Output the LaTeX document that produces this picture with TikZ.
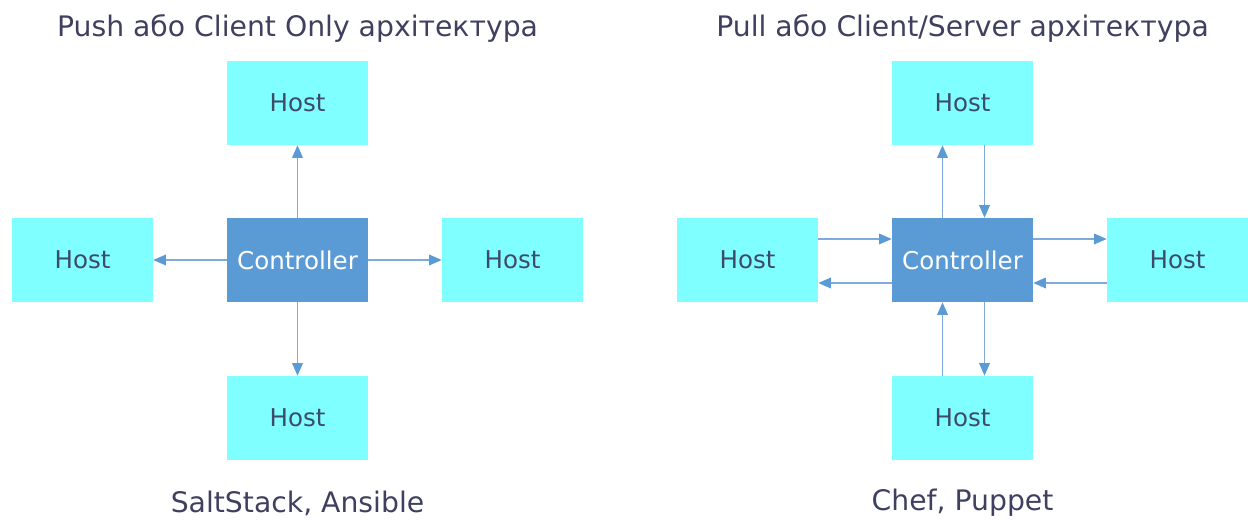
\documentclass[tikz,border=0pt]{standalone}
\usepackage{fontspec}
\setmainfont{DejaVu Sans}
\usetikzlibrary{arrows.meta}
\definecolor{hostfill}{HTML}{7FFFFF}
\definecolor{ctrlfill}{HTML}{5B9BD5}
\definecolor{txt}{HTML}{3F405F}
\definecolor{hosttxt}{HTML}{3D4A6A}
\definecolor{linec}{HTML}{7EAADC}
\tikzset{
  hostbox/.style={fill=hostfill, minimum width=105.75pt, minimum height=63pt, inner sep=0pt, text=hosttxt, font=\fontsize{18.4pt}{22pt}\selectfont},
  ctrlbox/.style={fill=ctrlfill, minimum width=105.75pt, minimum height=63pt, inner sep=0pt, text=white, font=\fontsize{18.4pt}{22pt}\selectfont},
  titletext/.style={text=txt, font=\fontsize{21.2pt}{25pt}\selectfont, inner sep=0pt},
  arr/.style={draw=linec, line width=1.1pt, -{Triangle[length=9.5pt,width=8pt,fill=ctrlfill,color=ctrlfill]}}
}
\begin{document}
\begin{tikzpicture}[x=0.75pt,y=-0.75pt]
\useasboundingbox (0,0) rectangle (1248,520);
% left diagram
\node[titletext] (title1) at (297.5,28) {Push або Client Only архітектура};
\node[ctrlbox] (c1) at (297.5,260) {Controller};
\node[hostbox] (t1) at (297.5,103) {Host};
\node[hostbox] (l1) at (82.5,260) {Host};
\node[hostbox] (r1) at (512.5,260) {Host};
\node[hostbox] (b1) at (297.5,418) {Host};
\node[titletext] (foot1) at (297.5,503) {SaltStack, Ansible};
\draw[arr] (c1.north) -- (t1.south);
\draw[arr] (c1.west) -- (l1.east);
\draw[arr] (c1.east) -- (r1.west);
\draw[arr] (c1.south) -- (b1.north);
% right diagram
\node[titletext] (title2) at (962.5,28) {Pull або Client/Server архітектура};
\node[ctrlbox] (c2) at (962.5,260) {Controller};
\node[hostbox] (t2) at (962.5,103) {Host};
\node[hostbox] (l2) at (747.5,260) {Host};
\node[hostbox] (r2) at (1177.5,260) {Host};
\node[hostbox] (b2) at (962.5,418) {Host};
\node[titletext] (foot2) at (962.5,503) {Chef, Puppet};
\draw[arr] ([xshift=-15pt]c2.north) -- ([xshift=-15pt]t2.south);
\draw[arr] ([xshift=16.5pt]t2.south) -- ([xshift=16.5pt]c2.north);
\draw[arr] ([xshift=-15pt]b2.north) -- ([xshift=-15pt]c2.south);
\draw[arr] ([xshift=16.5pt]c2.south) -- ([xshift=16.5pt]b2.north);
\draw[arr] ([yshift=15.75pt]l2.east) -- ([yshift=15.75pt]c2.west);
\draw[arr] ([yshift=-17.25pt]c2.west) -- ([yshift=-17.25pt]l2.east);
\draw[arr] ([yshift=15.75pt]c2.east) -- ([yshift=15.75pt]r2.west);
\draw[arr] ([yshift=-17.25pt]r2.west) -- ([yshift=-17.25pt]c2.east);
\end{tikzpicture}
\end{document}
